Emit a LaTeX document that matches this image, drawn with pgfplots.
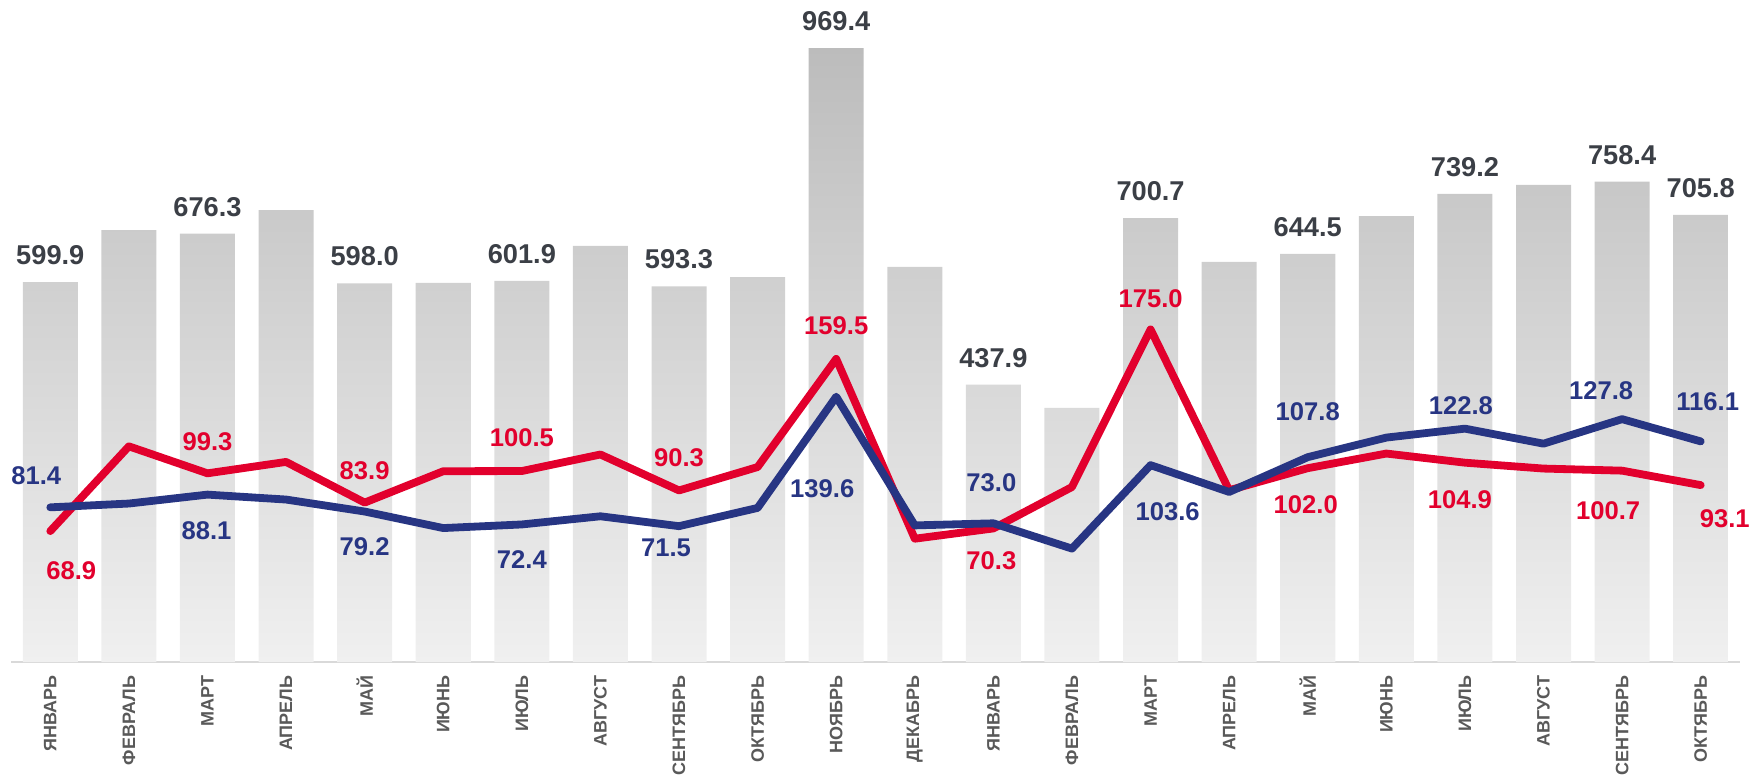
\documentclass[border=0pt]{standalone}
\usepackage{fontspec}
\setmainfont{Liberation Sans}
\usepackage{pgfplots}
\usepackage{pgfplotstable}
\pgfplotsset{compat=1.18}
\definecolor{cred}{HTML}{E2002D}
\definecolor{cnavy}{HTML}{273583}
\definecolor{clab}{HTML}{3B3F46}
\definecolor{ctick}{HTML}{595959}
\definecolor{btop}{HTML}{BCBCBC}
\definecolor{bbot}{HTML}{F0F0F0}
\definecolor{caxis}{HTML}{D9D9D9}

\pgfplotstableread{
x y
0 599.9
1 681.9
2 676.3
3 713.5
4 598.0
5 598.7
6 601.9
7 657.1
8 593.3
9 607.6
10 969.4
11 623.9
12 437.9
13 401.2
14 700.7
15 631.8
16 644.5
17 704.0
18 739.2
19 753.4
20 758.4
21 705.8
}\bars

\pgfplotstableread{
x y lab
0 599.9 599.9
2 676.3 676.3
4 598.0 598.0
6 601.9 601.9
8 593.3 593.3
10 969.4 969.4
12 437.9 437.9
14 700.7 700.7
16 644.5 644.5
18 739.2 739.2
20 758.4 758.4
21 705.8 705.8
}\barlabs

\pgfplotstableread{
x y
0 68.9
1 113.5
2 99.3
3 105.3
4 83.9
5 100.4
6 100.5
7 109.2
8 90.3
9 102.6
10 159.5
11 64.9
12 70.3
13 92.1
14 175.0
15 90.4
16 102.0
17 109.7
18 104.9
19 101.8
20 100.7
21 93.1
}\redline

\pgfplotstableread{
x y
0 81.4
1 83.4
2 88.1
3 85.5
4 79.2
5 70.5
6 72.4
7 76.7
8 71.5
9 81.1
10 139.6
11 71.9
12 73.0
13 59.7
14 103.6
15 89.5
16 107.8
17 118.1
18 122.8
19 114.9
20 127.8
21 116.1
}\navyline

% label offsets dx, dy in pixels of the reference (x: 78.55 px per category, y: 1.9 px per unit)
\pgfplotstableread{
x y lab dx dy
0 68.9 68.9 21 -40
2 99.3 99.3 0 32
4 83.9 83.9 0 32
6 100.5 100.5 0 33
8 90.3 90.3 0 33
10 159.5 159.5 0 33
12 70.3 70.3 -2 -32
14 175.0 175.0 0 31
16 102.0 102.0 -2 -36
18 104.9 104.9 -5 -37
20 100.7 100.7 -14 -40
21 93.1 93.1 24 -34
}\redlabs

\pgfplotstableread{
x y lab dx dy
0 81.4 81.4 -14 32
2 88.1 88.1 -1 -36
4 79.2 79.2 0 -35
6 72.4 72.4 0 -35
8 71.5 71.5 -13 -22
10 139.6 139.6 -14 -92
12 73.0 73.0 -2 41
14 103.6 103.6 17 -47
16 107.8 107.8 0 45
18 122.8 122.8 -4 23
20 127.8 127.8 -21 28
21 116.1 116.1 7 40
}\navylabs

\begin{document}
\begin{tikzpicture}
\begin{axis}[
  name=ax,
  scale only axis,
  width=864pt, height=330.85pt,
  xmin=-0.5, xmax=21.5, ymin=0, ymax=1045.2,
  axis x line*=bottom, axis y line=none,
  x axis line style={draw=caxis, line width=1pt, -},
  xtick={0,...,21},
  xticklabels={ЯНВАРЬ,ФЕВРАЛЬ,МАРТ,АПРЕЛЬ,МАЙ,ИЮНЬ,ИЮЛЬ,АВГУСТ,СЕНТЯБРЬ,ОКТЯБРЬ,НОЯБРЬ,ДЕКАБРЬ,ЯНВАРЬ,ФЕВРАЛЬ,МАРТ,АПРЕЛЬ,МАЙ,ИЮНЬ,ИЮЛЬ,АВГУСТ,СЕНТЯБРЬ,ОКТЯБРЬ},
  major tick length=0pt,
  xticklabel style={rotate=90, anchor=east, font=\fontsize{9}{9}\selectfont\bfseries, text=ctick, inner xsep=6.5pt, inner ysep=0pt},
  clip=false,
]
\addplot[ybar, bar width=27.5pt, draw=none, top color=btop, bottom color=bbot] table[x=x,y=y] {\bars};
\addplot[draw=none, mark=none, nodes near coords, point meta=explicit symbolic,
  every node near coord/.style={anchor=center, yshift=13.35pt, font=\fontsize{13.6}{13.6}\selectfont\bfseries, text=clab}]
  table[x=x,y=y,meta=lab] {\barlabs};
\end{axis}
\begin{axis}[
  scale only axis,
  width=864pt, height=330.85pt,
  xmin=-0.5, xmax=21.5, ymin=0, ymax=348.3,
  hide axis, clip=false,
]
\addplot[cred, line width=3.9pt, line join=round, line cap=round, mark=none] table[x=x,y=y] {\redline};
\addplot[cnavy, line width=3.9pt, line join=round, line cap=round, mark=none] table[x=x,y=y] {\navyline};
\addplot[draw=none, mark=none, nodes near coords, point meta=explicit symbolic,
  every node near coord/.style={anchor=center, font=\fontsize{12.8}{12.8}\selectfont\bfseries, text=cred}]
  table[x expr=\thisrow{x}+\thisrow{dx}/78.55, y expr=\thisrow{y}+\thisrow{dy}/1.9, meta=lab] {\redlabs};
\addplot[draw=none, mark=none, nodes near coords, point meta=explicit symbolic,
  every node near coord/.style={anchor=center, font=\fontsize{12.8}{12.8}\selectfont\bfseries, text=cnavy}]
  table[x expr=\thisrow{x}+\thisrow{dx}/78.55, y expr=\thisrow{y}+\thisrow{dy}/1.9, meta=lab] {\navylabs};
\end{axis}
\pgfresetboundingbox
\path[use as bounding box] ([xshift=-5.5pt,yshift=-57.65pt]ax.south west) rectangle ([xshift=8.5pt]ax.north east);
\end{tikzpicture}
\end{document}
